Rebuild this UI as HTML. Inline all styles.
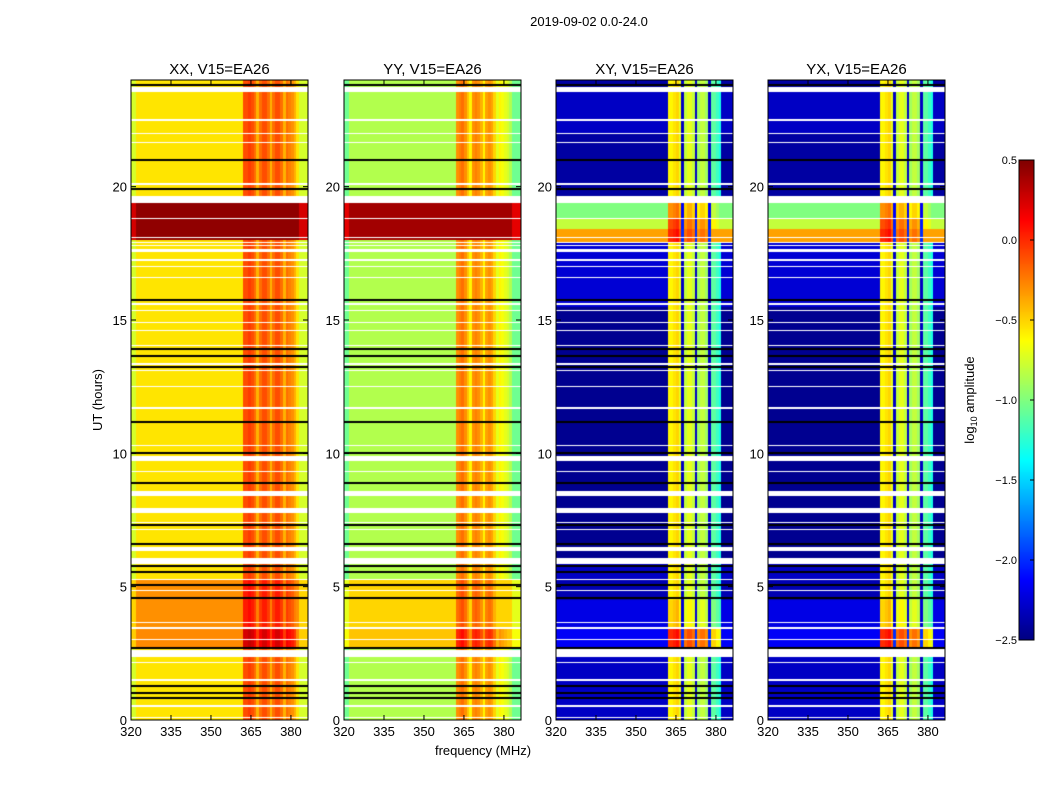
<!DOCTYPE html>
<html><head><meta charset="utf-8"><style>
body{margin:0;background:#fff;width:1050px;height:800px;overflow:hidden;font-family:"Liberation Sans",sans-serif}
#wrap{position:relative;width:1050px;height:800px}
canvas{position:absolute;left:0;top:0}
svg{position:absolute;left:0;top:0}
</style></head><body>
<div id="wrap">
<canvas id="cv" width="1050" height="800"></canvas>
<svg id="sv" width="1050" height="800"></svg>
</div>
<script>
// ---- data ----
const panelTitles=["XX, V15=EA26","YY, V15=EA26","XY, V15=EA26","YX, V15=EA26"];
const xTicks=[320,335,350,365,380];
const yTicks=[0,5,10,15,20];
const cbTicks=["0.5","0.0","\u22120.5","\u22121.0","\u22121.5","\u22122.0","\u22122.5"];
const cbValues=[0.5,0,-0.5,-1,-1.5,-2,-2.5];
// segments: [startHour, endHour, baseLevel, bandShift]
const segXX=[[0,2.7,-0.55,0],[2.7,3.4,-0.28,0.35],[3.4,5.3,-0.3,0.15],[5.3,18,-0.55,0],[18,19.4,0.45,0.5],[19.4,24,-0.55,0]];
const segYY=[[0,2.7,-0.85,0],[2.7,3.4,-0.45,0.3],[3.4,5.3,-0.5,0.1],[5.3,18,-0.85,0],[18,19.4,0.4,0.5],[19.4,24,-0.85,0]];
const segXY=[[0,2.4,-2.3,0],[2.7,3.4,-2.15,0.6],[3.4,4.5,-2.2,0.1],[4.5,5.3,-2.35,0],[5.3,6,-2.3,0],[6,15.5,-2.45,0],[15.5,17.9,-2.25,0],[17.9,18.4,-0.35,0.6],[18.4,18.8,-0.8,0.5],[18.8,19.4,-1.0,0.3],[19.4,22,-2.4,0],[22,23.6,-2.3,0],[23.6,24,-2.4,0]];
const segYX=[[0,2.4,-2.3,0],[2.7,3.4,-2.15,0.6],[3.4,4.5,-2.2,0.1],[4.5,5.3,-2.35,0],[5.3,6,-2.3,0],[6,15.5,-2.45,0],[15.5,17.9,-2.25,0],[17.9,18.4,-0.35,0.6],[18.4,18.8,-0.8,0.5],[18.8,19.4,-1.0,0.3],[19.4,22,-2.4,0],[22,23.6,-2.3,0],[23.6,24,-2.4,0]];
// band levels, 1 MHz bins from 362 to 381 MHz
const bandStart=362;
const bandXX=[-0.1,-0.1,-0.05,-0.1,-0.2,-0.4,-0.2,-0.1,-0.1,-0.2,-0.4,-0.2,-0.1,-0.1,-0.2,-0.4,-0.2,-0.25,-0.3,-0.4];
const bandYY=[-0.3,-0.25,-0.2,-0.3,-0.45,-0.6,-0.3,-0.25,-0.3,-0.4,-0.6,-0.35,-0.3,-0.35,-0.5,-0.7,-0.6,-0.65,-0.7,-0.75];
const bandXY=[-0.6,-0.6,-0.55,-0.5,-0.7,-2.3,-0.8,-0.7,-0.7,-0.8,-2.3,-0.9,-0.8,-0.8,-0.9,-2.3,-1.1,-1.1,-1.2,-1.3];
const bandYX=[-0.6,-0.6,-0.55,-0.5,-0.7,-2.3,-0.8,-0.7,-0.7,-0.8,-2.3,-0.9,-0.8,-0.8,-0.9,-2.3,-1.1,-1.1,-1.2,-1.3];
const edgeDrop=[-0.2,-0.2,0,0]; // greener edge columns in XX/YY
const gapHours=[[0.08,0.12],[0.48,0.58],[1.47,1.53],[2.13,2.17],[2.37,2.62],[3.0,3.05],[3.43,3.47],[3.65,3.69],[4.83,4.87],[5.25,5.3],[5.85,6.07],[6.35,6.5],[7.13,7.17],[7.38,7.42],[7.77,7.95],[8.4,8.6],[9.31,9.35],[9.7,9.9],[10.28,10.32],[11.68,11.72],[12.48,12.52],[13.08,13.12],[13.33,13.37],[14.03,14.07],[14.58,14.62],[14.88,14.92],[15.33,15.37],[15.58,15.62],[16.58,16.62],[16.98,17.02],[17.23,17.27],[17.55,17.65],[17.78,17.82],[17.88,17.92],[18.08,18.12],[18.78,18.82],[19.4,19.65],[20.08,20.12],[21.63,21.67],[21.96,22.0],[22.48,22.52],[23.55,23.75]];
const blackHours=[0.82,1.0,1.27,2.7,4.57,5.05,5.55,5.78,6.6,7.3,8.9,10.0,11.17,13.25,13.65,13.9,15.75,19.9,21.0,23.8];
// ---- layout ----
const pLeft=[131,344,556,768],pW=177,pTop=80,pH=640;
const fMin=320,fMax=386.4,tMin=0,tMax=24;
const segs=[segXX,segYY,segXY,segYX],bands=[bandXX,bandYY,bandXY,bandYX];
function xs(i,f){return pLeft[i]+(f-fMin)/(fMax-fMin)*pW}
function ys(t){return pTop+pH-(t-tMin)/(tMax-tMin)*pH}
const vmin=-2.5,vmax=0.5;
function jet(v){let x=Math.max(0,Math.min(1,(v-vmin)/(vmax-vmin)));
 const c=k=>Math.max(0,Math.min(1,1.5-Math.abs(4*x-k)));
 return `rgb(${Math.round(255*c(3))},${Math.round(255*c(2))},${Math.round(255*c(1))})`}
const cv=document.getElementById('cv'),ctx=cv.getContext('2d');
for(let i=0;i<4;i++){
 ctx.fillStyle='#fff';ctx.fillRect(pLeft[i],pTop,pW,pH);
 for(const s of segs[i]){
  const yTop=Math.round(ys(s[1])),yBot=Math.round(ys(s[0]));
  for(let f=fMin;f<fMax;f+=1){
   const b=f-bandStart;
   let v=s[2];
   if(b>=0&&b<bands[i].length){v=Math.max(s[2],bands[i][b]+s[3]);if(bands[i][b]<-2)v=Math.min(v,bands[i][b]+s[3]*0.5);}
   if(f<=321||f>=383)v+=edgeDrop[i];
   ctx.fillStyle=jet(Math.min(v,0.5));
   const x0=Math.round(xs(i,f)),x1=Math.round(xs(i,Math.min(fMax,f+1)));
   ctx.fillRect(x0,yTop,x1-x0,yBot-yTop);
  }
 }
 ctx.fillStyle='#000';
 for(const h of blackHours)ctx.fillRect(pLeft[i],Math.round(ys(h))-1,pW,2);
 ctx.fillStyle='#fff';
 for(const g of gapHours){const a=Math.round(ys(g[1])),b=Math.round(ys(g[0]));ctx.fillRect(pLeft[i],a,pW,Math.max(1,b-a));}
}
// colorbar
const cbX=1019,cbW=15,cbTop=160,cbH=480;
for(let k=0;k<cbH;k++){ctx.fillStyle=jet(vmax-(k/cbH)*(vmax-vmin));ctx.fillRect(cbX,cbTop+k,cbW,1)}
// ---- svg ----
const sv=document.getElementById('sv'),NS="http://www.w3.org/2000/svg";
function el(tag,attrs,txt){const e=document.createElementNS(NS,tag);for(const k in attrs)e.setAttribute(k,attrs[k]);if(txt!=null)e.textContent=txt;sv.appendChild(e);return e}
let t=el('text',{x:589,y:26,'font-size':13,'text-anchor':'middle'},"2019-09-02 0.0-24.0");


for(let i=0;i<4;i++){
 let r=el('rect',{x:pLeft[i],y:pTop,width:pW,height:pH,fill:'none',stroke:'#000','stroke-width':1});
 
 
 let tt=el('text',{x:pLeft[i]+pW/2,y:74,'font-size':15,'text-anchor':'middle'},panelTitles[i]);
 
 
 for(const f of xTicks){const x=xs(i,f);
  el('line',{x1:x,x2:x,y1:pTop+pH,y2:pTop+pH-5,stroke:'#000'});el('line',{x1:x,x2:x,y1:pTop,y2:pTop+5,stroke:'#000'});
  let l=el('text',{x:x,y:736,'font-size':13,'text-anchor':'middle'},String(f));
  
  }
 for(const h of yTicks){const y=ys(h);
  el('line',{x1:pLeft[i],x2:pLeft[i]+5,y1:y,y2:y,stroke:'#000'});el('line',{x1:pLeft[i]+pW,x2:pLeft[i]+pW-5,y1:y,y2:y,stroke:'#000'});
  let l=el('text',{x:pLeft[i]-4,y:y+5,'font-size':13,'text-anchor':'end'},String(h));
  
  }
}
t=el('text',{x:102,y:400,'font-size':13,'text-anchor':'middle',transform:'rotate(-90 102 400)'},"UT (hours)");


t=el('text',{x:483,y:755,'font-size':13,'text-anchor':'middle'},"frequency (MHz)");


let cr=el('rect',{x:cbX,y:cbTop,width:cbW,height:cbH,fill:'none',stroke:'#000'});


cbValues.forEach((v,k)=>{const y=cbTop+(vmax-v)/(vmax-vmin)*cbH;
 el('line',{x1:cbX+cbW-4,x2:cbX+cbW,y1:y,y2:y,stroke:'#000'});
 let l=el('text',{x:cbX-2,y:y+4,'font-size':11,'text-anchor':'end'},cbTicks[k]);
 
 });
t=el('text',{x:974,y:400,'font-size':13,'text-anchor':'middle',transform:'rotate(-90 974 400)'});
t.innerHTML='log<tspan font-size="9" dy="3">10</tspan><tspan dy="-3"> amplitude</tspan>';


</script>
</body></html>
